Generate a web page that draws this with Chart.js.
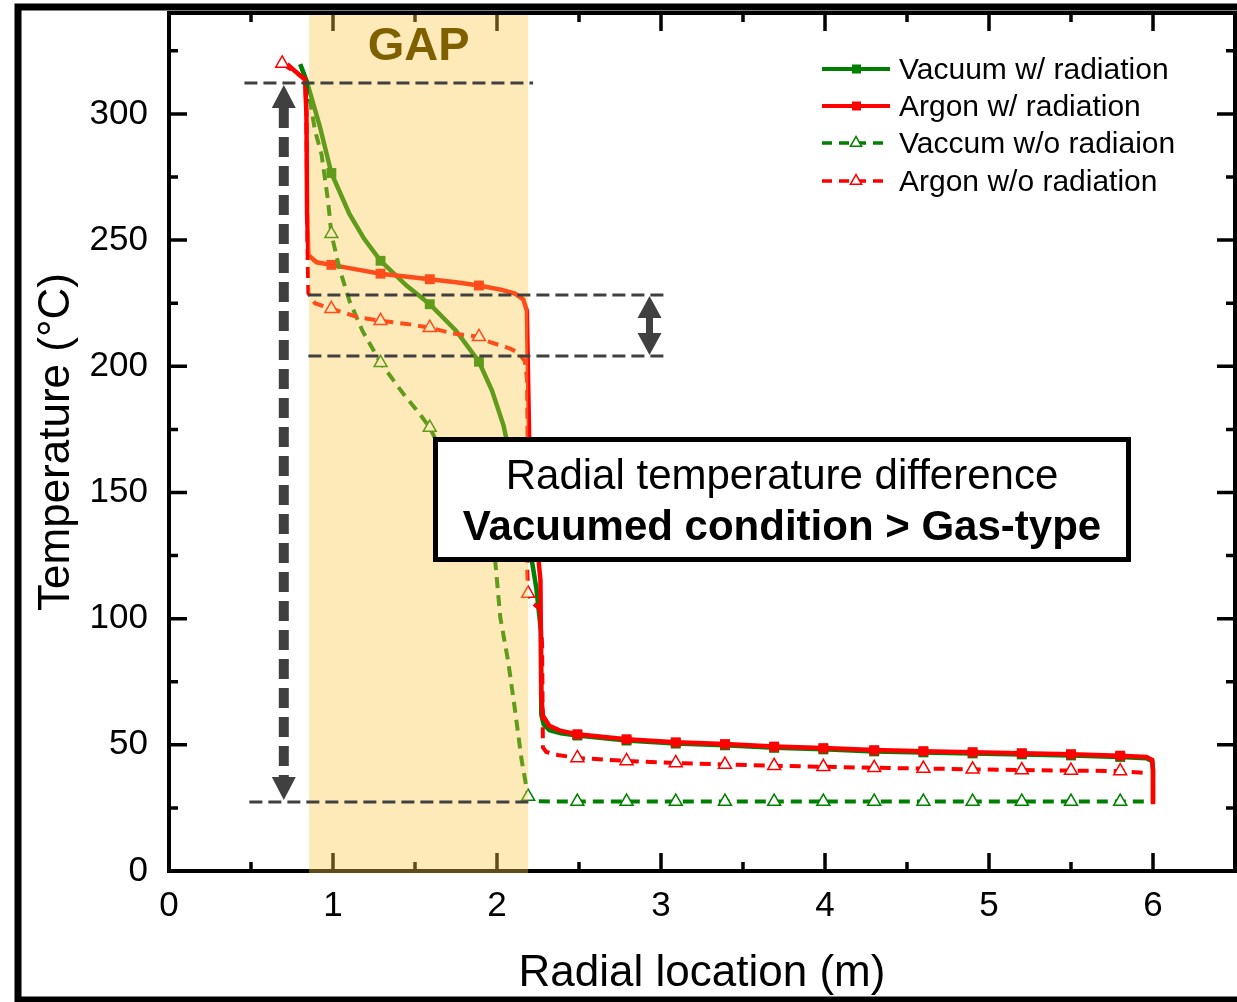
<!DOCTYPE html>
<html>
<head>
<meta charset="utf-8">
<script src="https://cdn.jsdelivr.net/npm/chart.js@4/dist/chart.umd.min.js"></script>
<style>
  html, body { margin: 0; padding: 0; background: #fff; }
  canvas { display: block; }
</style>
</head>
<body>
<canvas id="chart" width="1237" height="1002"></canvas>
<script>
// tick values
const X_TICKS = [0, 1, 2, 3, 4, 5, 6];
const Y_TICKS = [0, 50, 100, 150, 200, 250, 300];

// x positions where Origin put a symbol
const MARKER_X = [0.69, 0.99, 1.29, 1.59, 1.89, 2.19, 2.49, 2.79, 3.09, 3.39, 3.69,
  3.99, 4.30, 4.60, 4.90, 5.20, 5.50, 5.80];

// [radial location (m), temperature (C)]
const VAC_RAD = [[0.80, 319.7], [0.84, 313], [0.92, 295], [0.99, 276.6], [1.10, 260.4],
  [1.19, 250.5], [1.29, 241.8], [1.45, 231.9], [1.59, 224.6], [1.75, 214.1], [1.89, 201.8],
  [1.97, 190.3], [2.04, 176.5], [2.12, 152], [2.19, 132], [2.24, 112], [2.268, 95],
  [2.27, 62], [2.285, 58], [2.32, 55.8], [2.39, 54.6], [2.49, 53.7], [2.79, 51.7],
  [3.09, 50.5], [3.39, 49.8], [3.69, 48.8], [3.99, 48.2], [4.30, 47.4], [4.60, 47.0],
  [4.90, 46.6], [5.20, 46.2], [5.50, 45.8], [5.80, 45.2], [5.96, 44.7], [5.995, 43.5],
  [6.0, 40], [6.0, 27]];

const AR_RAD = [[0.72, 319.7], [0.83, 313.5], [0.838, 300], [0.842, 260], [0.85, 244],
  [0.90, 241.2], [0.99, 240.2], [1.15, 238.3], [1.29, 236.7], [1.44, 235.6], [1.59, 234.5],
  [1.75, 233.3], [1.89, 232], [2.03, 230.3], [2.11, 228.8], [2.16, 226.5], [2.182, 222],
  [2.188, 200], [2.196, 172], [2.23, 140], [2.265, 115], [2.27, 70], [2.28, 61.5],
  [2.32, 57.5], [2.39, 55.5], [2.49, 54.2], [2.79, 52.2], [3.09, 51.0], [3.39, 50.3],
  [3.69, 49.3], [3.99, 48.7], [4.30, 47.9], [4.60, 47.5], [4.90, 47.1], [5.20, 46.7],
  [5.50, 46.3], [5.80, 45.7], [5.96, 45.2], [5.995, 44], [6.0, 40], [6.0, 26.5]];

const VAC_NORAD = [[0.80, 319.7], [0.84, 313], [0.89, 293.5], [0.93, 284], [0.97, 265.5],
  [0.99, 252.5], [1.04, 238.6], [1.10, 226], [1.18, 214], [1.29, 201.4], [1.43, 189],
  [1.53, 181], [1.59, 175.7], [1.75, 155], [1.89, 136], [1.99, 122.3], [2.02, 100.5],
  [2.067, 83.5], [2.11, 63.7], [2.15, 44], [2.18, 33], [2.19, 29.5], [2.23, 27.6],
  [2.49, 27.5], [2.79, 27.5], [3.09, 27.5], [3.39, 27.5], [3.69, 27.5], [3.99, 27.5],
  [4.30, 27.5], [4.60, 27.5], [4.90, 27.5], [5.20, 27.5], [5.50, 27.5], [5.80, 27.5],
  [5.97, 27.5]];

const AR_NORAD = [[0.69, 320], [0.83, 314], [0.838, 300], [0.845, 245], [0.85, 229],
  [0.89, 225], [0.99, 222.8], [1.15, 219.5], [1.29, 218], [1.45, 216.8], [1.59, 215.3],
  [1.73, 213], [1.89, 211.7], [1.94, 210], [2.08, 207], [2.13, 205.4], [2.17, 202],
  [2.183, 195], [2.188, 160], [2.185, 118], [2.19, 110], [2.22, 106], [2.26, 104],
  [2.275, 90], [2.28, 49], [2.30, 47.2], [2.37, 46], [2.49, 44.8], [2.79, 43.6],
  [3.09, 42.8], [3.39, 42.2], [3.69, 41.7], [3.99, 41.3], [4.30, 40.9], [4.60, 40.6],
  [4.90, 40.3], [5.20, 40.0], [5.50, 39.8], [5.80, 39.6], [5.97, 38.8]];

const SERIES_NAMES = ['Vacuum w/ radiation', 'Argon w/ radiation', 'Vaccum w/o radiaion', 'Argon w/o radiation'];

const FONT = "'Liberation Sans', Arial, sans-serif";
const GREEN = '#008000';
const RED = '#ff0000';
const GRAY = '#404040';

const toXY = arr => arr.map(p => ({ x: p[0], y: p[1] }));
const isMarker = x => MARKER_X.some(m => Math.abs(m - x) < 0.0005);

function solidSet(label, data, color, order) {
  return {
    label, data: toXY(data), order,
    borderColor: color, backgroundColor: color, borderWidth: 4.5,
    pointStyle: 'rect', pointBackgroundColor: color, pointBorderWidth: 0,
    pointRadius: ctx => (ctx.raw && isMarker(ctx.raw.x)) ? 7 : 0,
    tension: 0
  };
}
function dashSet(label, data, color, order) {
  return {
    label, data: toXY(data), order,
    borderColor: color, backgroundColor: '#fff', borderWidth: 4, borderDash: [11, 7],
    pointStyle: 'triangle', pointBackgroundColor: '#fff', pointBorderColor: color, pointBorderWidth: 1.5,
    pointRadius: ctx => (ctx.raw && isMarker(ctx.raw.x)) ? 7.5 : 0,
    tension: 0
  };
}

// no extra room for the end labels, the plot box is fixed
function fixBox(s, size) {
  if (s.isHorizontal()) s.height = size; else s.width = size;
  s.paddingTop = 0; s.paddingBottom = 0; s.paddingLeft = 0; s.paddingRight = 0;
}

// decorations in data units
const GAP = { from: 0.854, to: 2.19 };
const GUIDES = [
  { y: 312.3, x0: 0.46, x1: 2.22 },
  { y: 228.3, x0: 0.85, x1: 3.04 },
  { y: 204.1, x0: 0.85, x1: 3.04 },
  { y: 27.3, x0: 0.49, x1: 2.22 }
];

function head(ctx, x, tip, dir, len, w) {
  ctx.beginPath();
  ctx.moveTo(x, tip);
  ctx.lineTo(x - w / 2, tip + dir * len);
  ctx.lineTo(x + w / 2, tip + dir * len);
  ctx.closePath();
  ctx.fill();
}

const decor = {
  id: 'decor',
  beforeDraw(chart) {
    const ctx = chart.ctx;
    ctx.save();
    ctx.fillStyle = '#fff';
    ctx.fillRect(0, 0, chart.width, chart.height);
    ctx.restore();
  },
  beforeDatasetsDraw(chart) {
    const { ctx, chartArea: a, scales: { x, y } } = chart;
    ctx.save();
    ctx.strokeStyle = '#000';
    ctx.lineWidth = 3.5;
    ctx.beginPath();
    for (let v = 0.5; v < 6.5; v += 0.5) {
      const len = Number.isInteger(v) ? 18 : 9;
      const p = x.getPixelForValue(v);
      ctx.moveTo(p, a.bottom); ctx.lineTo(p, a.bottom - len);
      ctx.moveTo(p, a.top); ctx.lineTo(p, a.top + len);
    }
    for (let v = 25; v < 340; v += 25) {
      const len = v % 50 === 0 ? 18 : 9;
      const p = y.getPixelForValue(v);
      ctx.moveTo(a.left, p); ctx.lineTo(a.left + len, p);
      ctx.moveTo(a.right, p); ctx.lineTo(a.right - len, p);
    }
    ctx.stroke();
    ctx.lineWidth = 4;
    ctx.strokeRect(a.left, a.top, a.right - a.left, a.bottom - a.top);
    ctx.restore();
  },
  afterDatasetsDraw(chart) {
    const { ctx, chartArea: a, scales: { x, y } } = chart;
    ctx.save();
    // GAP band laid over lines and axis
    const g0 = x.getPixelForValue(GAP.from), g1 = x.getPixelForValue(GAP.to);
    ctx.fillStyle = 'rgba(252, 200, 70, 0.38)';
    ctx.fillRect(g0, a.top + 2, g1 - g0, a.bottom - a.top);
    ctx.fillStyle = '#7f6000';
    ctx.font = 'bold 47px ' + FONT;
    ctx.textAlign = 'center';
    ctx.textBaseline = 'alphabetic';
    ctx.fillText('GAP', (g0 + g1) / 2, 60);

    // guide lines
    ctx.strokeStyle = GRAY;
    ctx.lineWidth = 3;
    ctx.setLineDash([13, 6]);
    GUIDES.forEach(gd => {
      const py = y.getPixelForValue(gd.y);
      ctx.beginPath();
      ctx.moveTo(x.getPixelForValue(gd.x0), py);
      ctx.lineTo(x.getPixelForValue(gd.x1), py);
      ctx.stroke();
    });

    // big dashed double arrow
    ctx.fillStyle = GRAY;
    const ax = x.getPixelForValue(0.70);
    const aTop = y.getPixelForValue(312.3) + 2, aBot = y.getPixelForValue(27.3) - 2;
    head(ctx, ax, aTop, 1, 23, 24);
    head(ctx, ax, aBot, -1, 23, 24);
    ctx.lineWidth = 10;
    ctx.setLineDash([20, 9]);
    ctx.beginPath();
    ctx.moveTo(ax, aTop + 23);
    ctx.lineTo(ax, aBot - 23);
    ctx.stroke();

    // small double arrow
    ctx.setLineDash([]);
    const bx = x.getPixelForValue(2.93);
    const bTop = y.getPixelForValue(228.3) + 1, bBot = y.getPixelForValue(204.1) - 1;
    head(ctx, bx, bTop, 1, 22, 24);
    head(ctx, bx, bBot, -1, 22, 24);
    ctx.lineWidth = 7;
    ctx.beginPath();
    ctx.moveTo(bx, bTop + 20);
    ctx.lineTo(bx, bBot - 20);
    ctx.stroke();

    // text box
    ctx.fillStyle = '#fff';
    ctx.fillRect(435, 439, 694, 121);
    ctx.strokeStyle = '#000';
    ctx.lineWidth = 5;
    ctx.strokeRect(435.5, 439.5, 693, 120);
    ctx.fillStyle = '#000';
    ctx.textAlign = 'center';
    ctx.font = '42px ' + FONT;
    ctx.fillText('Radial temperature difference', 782, 489);
    ctx.font = 'bold 42px ' + FONT;
    ctx.fillText('Vacuumed condition > Gas-type', 782, 540);

    // legend
    const rows = [69, 106, 143, 181];
    chart.data.datasets.forEach((ds, i) => {
      const ry = rows[i];
      ctx.strokeStyle = ds.borderColor;
      ctx.setLineDash(ds.borderDash ? [10, 7] : []);
      ctx.lineWidth = ds.borderDash ? 3.5 : 4;
      ctx.beginPath();
      ctx.moveTo(822, ry);
      ctx.lineTo(890, ry);
      ctx.stroke();
      ctx.setLineDash([]);
      if (ds.pointStyle === 'rect') {
        ctx.fillStyle = ds.borderColor;
        ctx.fillRect(852, ry - 4.5, 9, 9);
      } else {
        ctx.fillStyle = '#fff';
        ctx.lineWidth = 1.5;
        const r = 6.5;
        ctx.beginPath();
        ctx.moveTo(856, ry - r);
        ctx.lineTo(856 - r * 0.866, ry + r / 2);
        ctx.lineTo(856 + r * 0.866, ry + r / 2);
        ctx.closePath();
        ctx.fill();
        ctx.stroke();
      }
      ctx.fillStyle = '#000';
      ctx.font = '30px ' + FONT;
      ctx.textAlign = 'left';
      ctx.textBaseline = 'middle';
      ctx.fillText(ds.label, 899, ry + 2);
    });

    // outer frame of the figure
    ctx.strokeStyle = '#000';
    ctx.lineWidth = 7;
    ctx.strokeRect(18, 7, 1300, 993);
    ctx.restore();
  }
};

new Chart(document.getElementById('chart'), {
  type: 'line',
  data: {
    datasets: [
      solidSet(SERIES_NAMES[0], VAC_RAD, GREEN, 4),
      solidSet(SERIES_NAMES[1], AR_RAD, RED, 3),
      dashSet(SERIES_NAMES[2], VAC_NORAD, GREEN, 2),
      dashSet(SERIES_NAMES[3], AR_NORAD, RED, 1)
    ]
  },
  options: {
    responsive: false,
    animation: false,
    events: [],
    layout: { autoPadding: false, padding: { left: 0, top: 13, right: 2, bottom: 0 } },
    plugins: { legend: { display: false }, tooltip: { enabled: false } },
    scales: {
      x: {
        type: 'linear', min: 0, max: 6.5,
        grid: { display: false, drawTicks: false },
        border: { display: false },
        afterBuildTicks: s => { s.ticks = X_TICKS.map(v => ({ value: v })); },
        afterFit: s => fixBox(s, 131),
        ticks: { font: { family: FONT, size: 35 }, color: '#000', padding: 14, maxRotation: 0, autoSkip: false },
        title: { display: true, text: 'Radial location (m)', color: '#000',
          font: { family: FONT, size: 44, lineHeight: 1 }, padding: { top: 0, bottom: 6 } }
      },
      y: {
        type: 'linear', min: 0, max: 340,
        grid: { display: false, drawTicks: false },
        border: { display: false },
        afterBuildTicks: s => { s.ticks = Y_TICKS.map(v => ({ value: v })); },
        afterFit: s => fixBox(s, 169),
        ticks: { font: { family: FONT, size: 35 }, color: '#000', padding: 21, autoSkip: false },
        title: { display: true, text: 'Temperature (°C)', color: '#000',
          font: { family: FONT, size: 44, lineHeight: 1 }, padding: { top: 35, bottom: 0 } }
      }
    }
  },
  plugins: [decor]
});
</script>
</body>
</html>
